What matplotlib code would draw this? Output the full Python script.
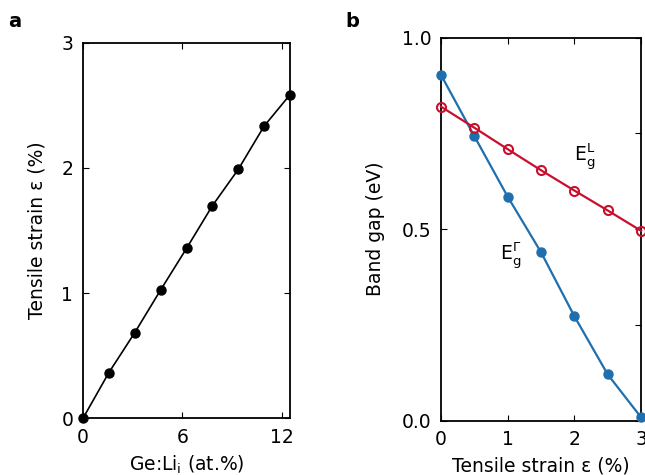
import matplotlib
matplotlib.use('Agg')
import matplotlib.pyplot as plt
from matplotlib.ticker import MultipleLocator

plt.rcParams['font.family'] = ['DejaVu Sans']
plt.rcParams['mathtext.default'] = 'regular'

# panel a: Li concentration vs strain
li_conc = [0, 1.5625, 3.125, 4.6875, 6.25, 7.8125, 9.375, 10.9375, 12.5]
strain_a = [0, 0.365, 0.684, 1.025, 1.357, 1.698, 1.988, 2.334, 2.585]

# panel b: band gaps vs strain
strain_b = [0, 0.5, 1.0, 1.5, 2.0, 2.5, 3.0]
gap_gamma = [0.903, 0.743, 0.585, 0.440, 0.273, 0.121, 0.009]
gap_L = [0.820, 0.765, 0.709, 0.654, 0.601, 0.549, 0.496]

blue = '#1f6fae'
red = '#c8102e'
fs = 13.5

fig = plt.figure(figsize=(6.45, 4.75), dpi=100)
ax1 = fig.add_axes([0.1287, 0.1194, 0.3209, 0.7906])
ax2 = fig.add_axes([0.6837, 0.1143, 0.3101, 0.8063])

ax1.plot(li_conc, strain_a, '-o', color='black', lw=1.2, ms=6.5, clip_on=False, zorder=3)
ax1.set_xlim(0, 12.5)
ax1.set_ylim(0, 3)
ax1.set_xticks([0, 6, 12])
ax1.set_yticks([0, 1, 2, 3])
ax1.set_xlabel('Ge:Li$_i$ (at.%)', fontsize=fs, labelpad=5)
ax1.set_ylabel('Tensile strain ε (%)', fontsize=fs, labelpad=11)

ax2.plot(strain_b, gap_gamma, '-o', color=blue, lw=1.6, ms=6.5, clip_on=False, zorder=3)
ax2.plot(strain_b, gap_L, '-o', color=red, lw=1.6, ms=6.5, mfc='none', mew=1.5,
         clip_on=False, zorder=3)
ax2.set_xlim(0, 3)
ax2.set_ylim(0, 1.0)
ax2.set_xticks([0, 1, 2, 3])
ax2.set_yticks([0, 0.5, 1.0])
ax2.set_yticklabels(['0.0', '0.5', '1.0'])
ax2.yaxis.set_minor_locator(MultipleLocator(0.25))
ax2.set_xlabel('Tensile strain ε (%)', fontsize=fs, labelpad=5)
ax2.set_ylabel('Band gap (eV)', fontsize=fs, labelpad=12)
ax2.text(2.0, 0.69, '$E_g^L$', fontsize=fs, ha='left', va='center')
ax2.text(0.88, 0.43, '$E_g^\\Gamma$', fontsize=fs, ha='left', va='center')

for ax in (ax1, ax2):
    for s in ax.spines.values():
        s.set_linewidth(1.3)
    ax.tick_params(which='both', direction='in', top=True, right=True,
                   labelsize=fs, length=4, width=0.8, pad=7)
ax2.tick_params(which='minor', left=False)

fig.text(0.012, 0.955, 'a', fontsize=14, fontweight='bold', va='center')
fig.text(0.535, 0.955, 'b', fontsize=14, fontweight='bold', va='center')

fig.savefig('out.png', dpi=100)
